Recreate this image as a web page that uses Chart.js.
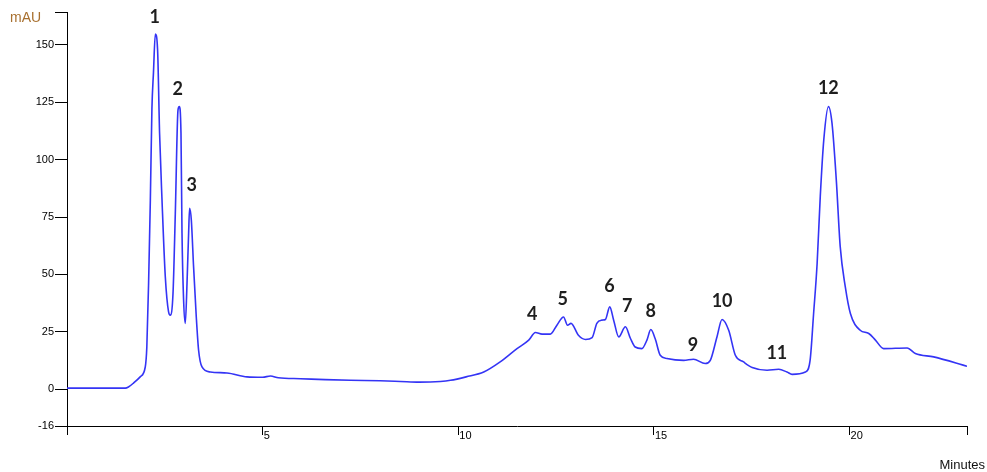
<!DOCTYPE html>
<html>
<head>
<meta charset="utf-8">
<script src="https://cdn.jsdelivr.net/npm/chart.js@4.4.1/dist/chart.umd.min.js"></script>
<style>
  html, body { margin: 0; padding: 0; background: #ffffff; }
  #wrap { width: 987px; height: 472px; }
</style>
</head>
<body>
<div id="wrap"><canvas id="c" width="987" height="472"></canvas></div>
<script>
// Retention time (minutes)
const times = [
  0, 1.00, 1.49, 1.57, 1.70, 1.87, 2.00, 2.04, 2.085, 2.13, 2.17, 2.21, 2.257, 2.315, 2.366, 2.428,
  2.512, 2.596, 2.640, 2.709, 2.768, 2.837, 2.870, 2.913, 2.939, 2.980, 3.023, 3.067, 3.108, 3.133,
  3.177, 3.235, 3.304, 3.363, 3.450, 3.662, 4.089, 4.600, 5.00, 5.20, 5.40, 5.96, 6.6, 7.24, 8.0,
  8.52, 9.0, 9.54, 9.80, 10.2, 10.65, 11.07, 11.50, 11.80, 11.97, 12.14, 12.35, 12.52, 12.69, 12.79,
  12.88, 13.07, 13.25, 13.42, 13.54, 13.67, 13.76, 13.87, 13.97, 14.10, 14.27, 14.40, 14.52, 14.69,
  14.82, 14.92, 15.03, 15.16, 15.33, 15.76, 16.01, 16.31, 16.44, 16.61, 16.74, 16.91, 17.08, 17.29,
  17.51, 17.89, 18.19, 18.40, 18.53, 18.87, 18.99, 19.08, 19.17, 19.25, 19.34, 19.46, 19.55, 19.66,
  19.76, 19.89, 20.02, 20.27, 20.49, 20.66, 20.87, 21.47, 21.68, 22.15, 23.0
];
// Absorbance (mAU)
const absorbance = [
  0.5, 0.5, 0.5, 1.0, 2.7, 5.4, 9.7, 18.4, 46.1, 82.4, 122.0, 138.0, 154.7, 147.8, 111.5, 82.4,
  49.0, 33.7, 32.3, 41.7, 76.6, 121.7, 123.1, 111.5, 67.9, 38.8, 28.7, 46.1, 67.9, 78.8,
  73.7, 53.3, 31.5, 17.0, 9.7, 7.5, 7.1, 5.4, 5.2, 5.8, 5.0, 4.6, 4.2, 3.9, 3.7,
  3.4, 3.1, 3.4, 3.9, 5.4, 7.5, 11.9, 17.7, 21.4, 24.7, 24.0, 24.0, 27.9, 31.5, 27.9,
  28.7, 23.5, 21.7, 22.5, 28.7, 30.1, 30.4, 35.9, 30.1, 22.8, 27.2, 22.1, 18.4, 17.7,
  21.4, 26.0, 22.1, 14.8, 13.4, 12.6, 13.1, 11.2, 12.6, 22.8, 30.4, 25.7, 14.8, 11.9,
  9.5, 8.3, 8.7, 7.5, 6.5, 7.5, 12.6, 33.0, 54.8, 83.9, 108.6, 123.1, 115.9, 91.1,
  62.1, 44.6, 33.0, 25.7, 24.3, 21.4, 17.7, 18.0, 15.6, 14.1, 10.0
];
// Peak labels and their anchor points (data units)
const peakNames = ['1','2','3','4','5','6','7','8','9','10','11','12'];
const peakLabelTimes = [2.239, 2.832, 3.189, 11.886, 12.671, 13.864, 14.314, 14.919, 15.998, 16.742, 18.14, 19.456];
const peakLabelValues = [162.1, 130.8, 88.7, 32.5, 39.2, 44.9, 36.2, 34.2, 19.2, 38.4, 15.5, 131.1];
// Axis ticks
const xTickValues = [0, 5, 10, 15, 20, 23];
const xTickLabels = ['', '5', '10', '15', '20', ''];
const yTickValues = [-16, 0, 25, 50, 75, 100, 125, 150, 164.3];
const yTickLabels = ['-16', '0', '25', '50', '75', '100', '125', '150', ''];
const xMin = 0, xMax = 23, yMin = -16, yMax = 164.3;

const tickFont = { family: 'Liberation Sans, Arial, sans-serif', size: 11 };

const labelPlugin = {
  id: 'peakLabels',
  afterDatasetsDraw(chart) {
    const ctx = chart.ctx;
    const xs = chart.scales.x, ys = chart.scales.y;
    ctx.save();
    ctx.fillStyle = '#1e1e1e';
    ctx.font = 'bold 18px Lato, "Liberation Sans", sans-serif';
    ctx.textAlign = 'center';
    ctx.textBaseline = 'middle';
    peakNames.forEach((n, i) => {
      ctx.fillText(n, xs.getPixelForValue(peakLabelTimes[i]), ys.getPixelForValue(peakLabelValues[i]));
    });
    // axis unit labels
    const ca = chart.chartArea;
    ctx.font = '14px "Liberation Sans", Arial, sans-serif';
    ctx.fillStyle = '#a8702f';
    ctx.textAlign = 'left';
    ctx.fillText('mAU', ca.left - 57, ca.top + 6);
    ctx.font = '13px "Liberation Sans", Arial, sans-serif';
    ctx.fillStyle = '#111';
    ctx.textAlign = 'right';
    ctx.fillText('Minutes', chart.width - 2, ca.bottom + 39);
    ctx.restore();
  }
};

new Chart(document.getElementById('c'), {
  type: 'line',
  data: {
    datasets: [{
      data: times.map((t, i) => ({ x: t, y: absorbance[i] })),
      borderColor: 'rgb(52,52,245)',
      borderWidth: 1.6,
      pointRadius: 0,
      fill: false,
      cubicInterpolationMode: 'monotone'
    }]
  },
  options: {
    responsive: false,
    animation: false,
    layout: { padding: { top: 12, right: 20, left: 0, bottom: 0 } },
    plugins: { legend: { display: false }, tooltip: { enabled: false } },
    scales: {
      x: {
        type: 'linear', min: xMin, max: xMax,
        afterBuildTicks: s => { s.ticks = xTickValues.map(v => ({ value: v })); },
        afterFit: s => { s.height = 46; },
        grid: { drawOnChartArea: false, drawTicks: true, tickLength: 9, color: '#000', lineWidth: 1 },
        border: { display: true, color: '#000', width: 1 },
        ticks: {
          align: 'start', padding: -6, labelOffset: 1, maxRotation: 0, autoSkip: false,
          color: '#000', font: tickFont,
          callback: (v, i) => xTickLabels[i]
        }
      },
      y: {
        type: 'linear', min: yMin, max: yMax,
        afterBuildTicks: s => { s.ticks = yTickValues.map(v => ({ value: v })); },
        afterFit: s => { s.width = 67; },
        grid: { drawOnChartArea: false, drawTicks: true, tickLength: 12, color: '#000', lineWidth: 1 },
        border: { display: true, color: '#000', width: 1 },
        ticks: {
          padding: 1, autoSkip: false, color: '#000', font: tickFont,
          callback: (v, i) => yTickLabels[i]
        }
      }
    }
  },
  plugins: [labelPlugin]
});
</script>
</body>
</html>
